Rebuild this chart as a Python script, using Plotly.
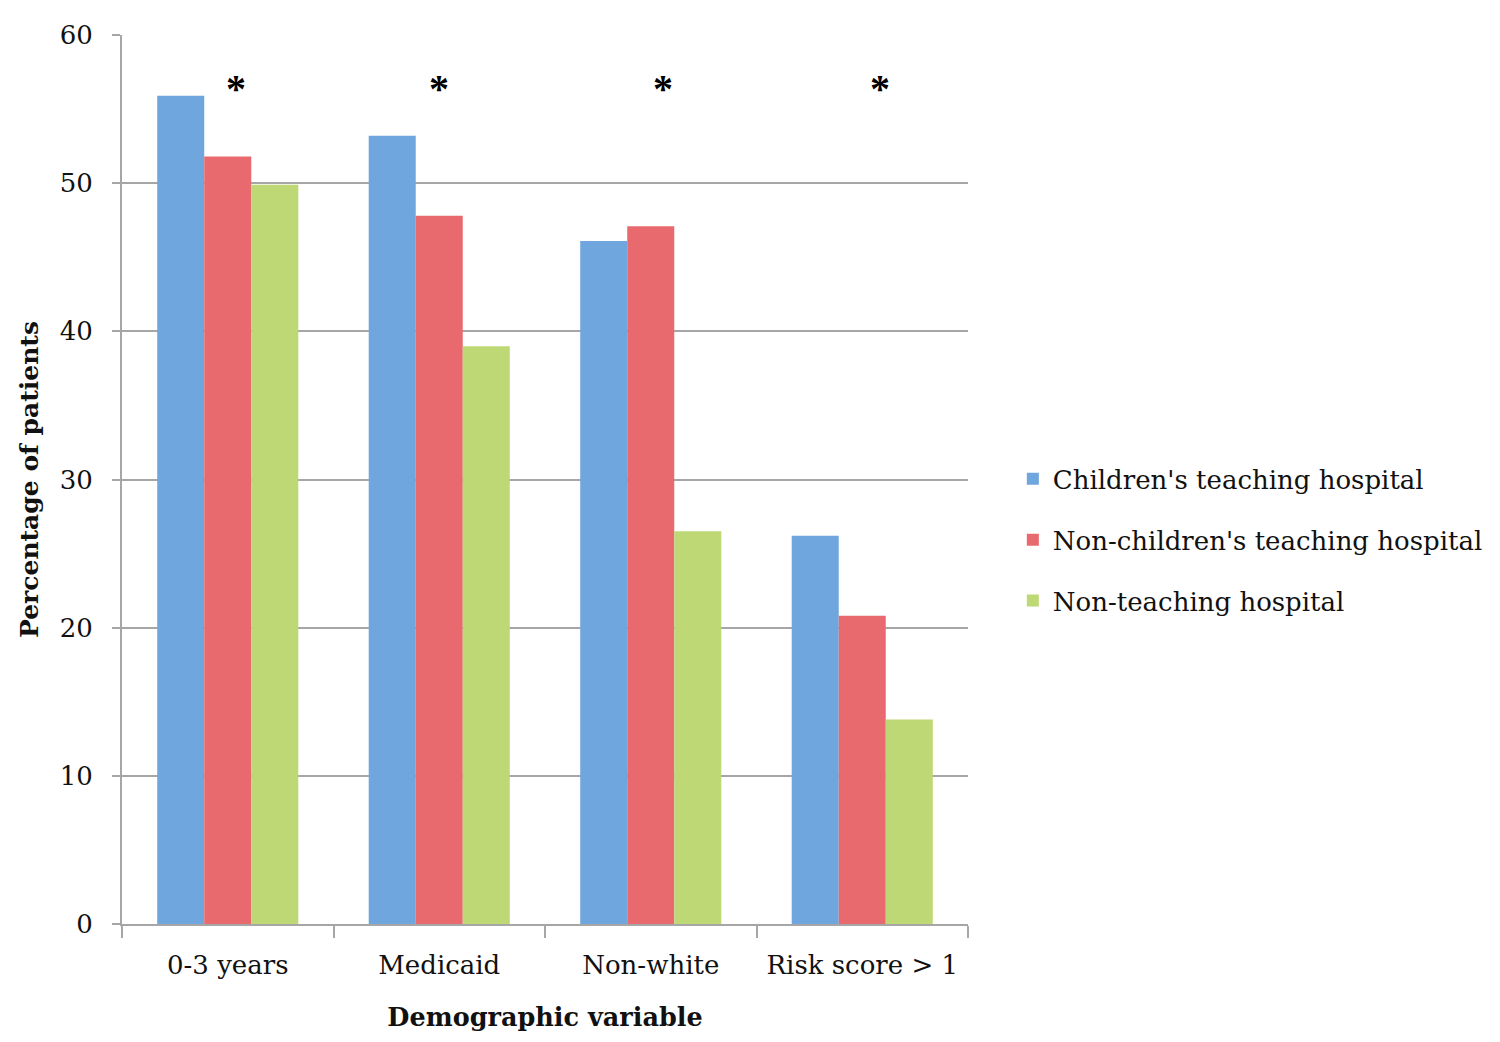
import plotly.graph_objects as go

# data
categories = ['0-3 years', 'Medicaid', 'Non-white', 'Risk score > 1']
series_names = ["Children's teaching hospital",
                "Non-children's teaching hospital",
                "Non-teaching hospital"]
childrens_teaching = [55.9, 53.2, 46.1, 26.2]
non_childrens_teaching = [51.8, 47.8, 47.1, 20.8]
non_teaching = [49.9, 39.0, 26.5, 13.8]

# significance markers: category index offset and height
star_offsets = [0.04, 0.0, 0.06, 0.085]
star_level = 56.4

colors = ['#6fa6dd', '#e96a6e', '#bdd874']
font_family = '"DejaVu Serif", "Liberation Serif", serif'

fig = go.Figure()

for i, (name, vals) in enumerate(zip(series_names,
                                     [childrens_teaching, non_childrens_teaching, non_teaching])):
    fig.add_trace(go.Bar(
        x=categories,
        y=vals,
        name=name,
        legendgroup=name,
        marker=dict(color=colors[i], line=dict(width=0)),
    ))

annotations = []
for idx, off in enumerate(star_offsets):
    annotations.append(dict(
        x=idx + off, y=star_level, xref='x', yref='y',
        text='<b>*</b>', showarrow=False,
        font=dict(size=40, color='black', family='"Liberation Serif", serif'),
        yanchor='middle',
    ))

fig.update_layout(
    width=1500,
    height=1042,
    plot_bgcolor='white',
    paper_bgcolor='white',
    barmode='group',
    bargap=0.333,
    bargroupgap=0,
    margin=dict(l=114, r=540, t=22, b=126),
    font=dict(family=font_family, size=25, color='#111111'),
    xaxis=dict(
        showgrid=False,
        showline=True, linecolor='#a6a6a6', linewidth=2,
        ticks='outside', tickson='boundaries', ticklen=12, tickcolor='#a6a6a6', tickwidth=2,
        ticklabelstandoff=17,
        tickfont=dict(size=26, color='#111111'),
        title=dict(text='<b>Demographic variable</b>', font=dict(size=25.5), standoff=29),
    ),
    yaxis=dict(
        range=[0, 60],
        dtick=10,
        showgrid=True, gridcolor='#a6a6a6', gridwidth=2,
        showline=True, linecolor='#a6a6a6', linewidth=2,
        ticks='outside', ticklen=8, tickcolor='#a6a6a6', tickwidth=2,
        ticklabelstandoff=14,
        zeroline=False,
        tickfont=dict(size=26, color='#111111'),
        title=dict(text='<b>Percentage of patients</b>', font=dict(size=25), standoff=14),
    ),
    legend=dict(
        x=1.053, xanchor='left',
        y=0.432, yanchor='middle',
        font=dict(size=26, color='#111111'),
        tracegroupgap=24,
        itemwidth=30,
        bgcolor='rgba(0,0,0,0)',
    ),
    showlegend=True,
    annotations=annotations,
)

fig.write_html('out.html')
